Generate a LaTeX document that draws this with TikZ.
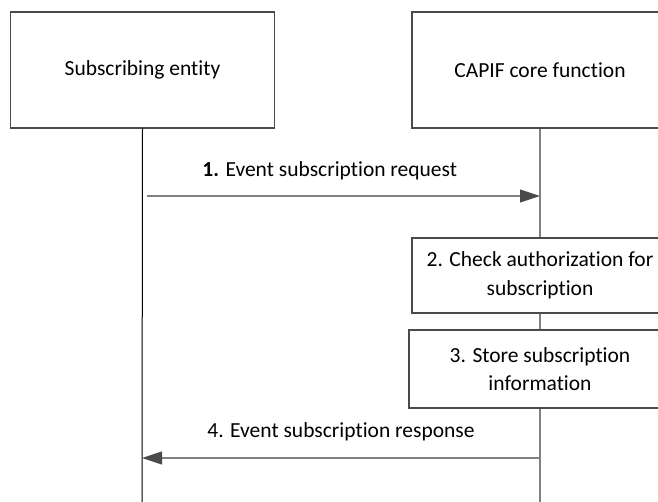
\documentclass[tikz,border=0pt]{standalone}
\usepackage{fontspec}
\setmainfont{Carlito}[Ligatures={NoCommon,NoRequired,NoContextual}]
\usetikzlibrary{arrows.meta}

\definecolor{boxgray}{HTML}{4A4A4A}
\definecolor{linegray}{HTML}{808080}

\begin{document}
\begin{tikzpicture}[x=1pt, y=-1pt,
    entity/.style={draw=boxgray, line width=1.1pt, minimum width=264pt, minimum height=116pt, font=\fontsize{21.5}{27}\selectfont},
    stepbox/.style={draw=boxgray, line width=1.1pt, align=center, font=\fontsize{21.5}{28.5}\selectfont},
    lifeline/.style={draw=linegray, line width=1.3pt},
    msg/.style={draw=linegray, line width=1.1pt, -{Triangle[length=20pt, width=13pt, color=boxgray, fill=boxgray]}},
    msglabel/.style={anchor=base, font=\fontsize{21.5}{27}\selectfont}]
  \useasboundingbox (0,0) rectangle (658,502);
  \clip (0,0) rectangle (658,502);
  \node[entity] (Sub) at (142.5,70) {Subscribing entity};  % Subscribing entity
  \node[entity, minimum width=256pt] (Core) at (540,70) {CAPIF core function};  % CAPIF core function
  \node[stepbox, minimum width=256pt, minimum height=75pt] (Check) at (540,275.5) {2. Check authorization for\\subscription};  % Step 2
  \node[stepbox, minimum width=262pt, minimum height=78pt] (Store) at (540,369) {3. Store subscription\\information};  % Step 3
  \coordinate (Sub-end) at (142,502);
  \coordinate (Core-end) at (540,502);
  \coordinate (Req-from) at (147,196);
  \coordinate (Req-to) at (540,196);
  \coordinate (Resp-from) at (540,458);
  \coordinate (Resp-to) at (142,458);
  \draw[lifeline, draw=black, line width=1pt] (Sub.south) -- (Sub-end);  % Lifelines
  \draw[lifeline] (Core.south) -- (Check.north);
  \draw[lifeline] (Check.south) -- (Store.north);
  \draw[lifeline] (Store.south) -- (Core-end);
  \draw[msg] (Req-from) -- (Req-to) node[msglabel, pos=0.465, yshift=19pt]{\textbf{1.} Event subscription request};  % Request
  \draw[msg] (Resp-from) -- (Resp-to) node[msglabel, midway, yshift=21pt]{4. Event subscription response};  % Response
\end{tikzpicture}
\end{document}
